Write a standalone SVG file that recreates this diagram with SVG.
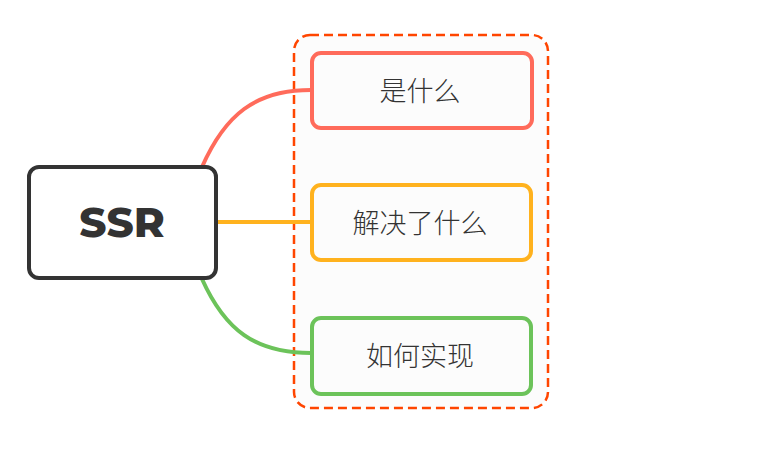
<svg xmlns="http://www.w3.org/2000/svg" width="772" height="458" viewBox="0 0 772 458">
<style>
.node rect{fill:#fcfcfc;stroke-width:4}
.lbl{font-family:"Noto Sans CJK SC","Noto Sans",sans-serif;font-size:27px;font-weight:300;fill:#333;text-anchor:middle;dominant-baseline:central}
.conn path{fill:none;stroke-width:4}
</style>
<rect width="772" height="458" fill="#ffffff"/>
<g id="boundary">
<rect x="294" y="35" width="254" height="373" rx="16" fill="#fcfcfc" stroke="#ff4500" stroke-width="2.5" stroke-dasharray="9,5"/>
</g>
<g id="connectors" class="conn">
<path d="M202,167 C225,115 255,90 311,90" stroke="#ff6b5b"/>
<path d="M217,222 L311,222" stroke="#ffb21e"/>
<path d="M202,279 C225,330 255,353 311,353" stroke="#6cc35a"/>
</g>
<g id="ssr">
<rect x="29" y="167" width="187" height="111" rx="10" fill="#ffffff" stroke="#333333" stroke-width="4"/>
<text x="122" y="222" font-family="Montserrat,'Open Sans',sans-serif" font-weight="800" font-size="42" fill="#333" text-anchor="middle" dominant-baseline="central">SSR</text>
</g>
<g id="n1" class="node">
<rect x="312" y="53" width="220" height="75" rx="9" stroke="#ff6b5b"/>
<text class="lbl" x="420" y="89">是什么</text>
</g>
<g id="n2" class="node">
<rect x="312" y="185" width="219" height="75" rx="9" stroke="#ffb21e"/>
<text class="lbl" x="420" y="221">解决了什么</text>
</g>
<g id="n3" class="node">
<rect x="312" y="318" width="219" height="76" rx="9" stroke="#6cc35a"/>
<text class="lbl" x="420" y="354">如何实现</text>
</g>
</svg>
